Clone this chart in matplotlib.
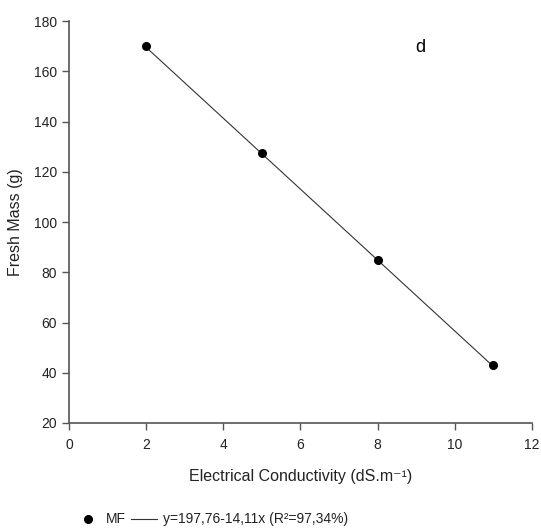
import numpy as np
import matplotlib
matplotlib.use("Agg")
import matplotlib.pyplot as plt
from matplotlib import font_manager

# salinity levels and measured fresh mass
ec = [2, 5, 8, 11]
fresh_mass = [170.0, 127.5, 85.0, 43.0]
intercept = 197.76
slope = -14.11

x_ticks = [0, 2, 4, 6, 8, 10, 12]
y_ticks = [20, 40, 60, 80, 100, 120, 140, 160, 180]

names = {f.name for f in font_manager.fontManager.ttflist}
family = "Liberation Sans Narrow" if "Liberation Sans Narrow" in names else "Liberation Sans"
plt.rcParams["font.family"] = [family, "DejaVu Sans"]

fig = plt.figure(figsize=(5.41, 5.31), dpi=100)
ax = fig.add_axes([0.1275, 0.2034, 0.8555, 0.757])

xfit = np.array([ec[0], ec[-1]])
ax.plot(xfit, intercept + slope * xfit, color="#333333", lw=0.8)
ax.plot(ec, fresh_mass, "o", color="black", ms=5.5)

ax.set_xlim(0, 12)
ax.set_ylim(20, 180)
ax.set_xticks(x_ticks)
ax.set_yticks(y_ticks)
for s in ["top", "right"]:
    ax.spines[s].set_visible(False)
for s in ["left", "bottom"]:
    ax.spines[s].set_color("#555555")
    ax.spines[s].set_linewidth(1.2)
ax.tick_params(direction="out", length=5, width=1, color="#555555",
               labelsize=10, colors="#222222")
ax.tick_params(axis="x", pad=6)

ax.set_xlabel("Electrical Conductivity (dS.m\u207B\u00B9)", fontsize=11.5, labelpad=12, color="#222222")
ax.set_ylabel("Fresh Mass (g)", fontsize=11.5, labelpad=8, color="#222222")
ax.text(9.1, 169.5, "d", fontsize=13, ha="center", va="center")

# legend row under the axis
ly = 1 - 519 / 531
fig.add_artist(plt.Line2D([88 / 541], [ly], marker="o", color="black", ms=5.5, ls="none"))
fig.text(106 / 541, ly, "MF", fontsize=10, ha="left", va="center", color="#222222")
fig.add_artist(plt.Line2D([131 / 541, 157 / 541], [ly, ly], color="#333333", lw=0.8))
fig.text(163 / 541, ly, "y=197,76-14,11x (R\u00B2=97,34%)", fontsize=10,
         ha="left", va="center", color="#222222")

fig.savefig("out.png", dpi=100)
